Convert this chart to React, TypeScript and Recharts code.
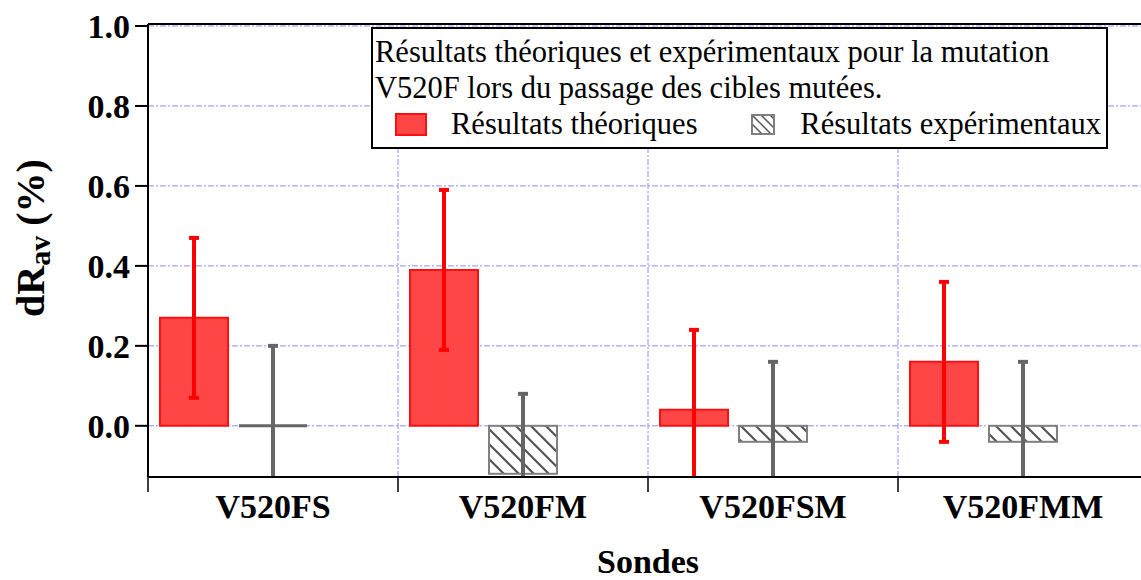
import React from 'react';
import { BarChart, Bar, XAxis, YAxis, CartesianGrid, ErrorBar, Legend, Label, ReferenceLine } from 'recharts';

const categories = ['V520FS', 'V520FM', 'V520FSM', 'V520FMM'];
const theoretical = [0.27, 0.39, 0.04, 0.16];
const theoreticalErr = [0.2, 0.2, 0.2, 0.2];
const experimental = [0, -0.12, -0.04, -0.04];
const experimentalErr = [0.2, 0.2, 0.2, 0.2];
const yTicks = [0, 0.2, 0.4, 0.6, 0.8, 1.0];
const Y_MIN = -0.128;
const Y_MAX = 1.005;

const data = categories.map((name, i) => ({
  name,
  theo: theoretical[i],
  theoErr: theoreticalErr[i],
  exp: experimental[i],
  expErr: experimentalErr[i],
}));

const legendOrder = ['theo', 'exp'];

const FONT = '"Liberation Serif", "Times New Roman", serif';
const RED_FILL = '#ff4646';
const RED_STROKE = '#ff1010';
const GREY = '#666666';
const GRID = '#8c8cff';

// chart layout
const CHART_W = 1160;
const CHART_H = 580;
const M_TOP = 24;
const M_RIGHT = 12;
const Y_W = 148;
const X_H = 103;
const TICK_MARGIN = 17;

const HatchBar = (props: any) => {
  const { x, y, width, height } = props;
  const top = Math.min(y, y + height);
  const h = Math.abs(height);
  if (h < 1) {
    return <line x1={x} x2={x + width} y1={y} y2={y} stroke={GREY} strokeWidth={3} />;
  }
  return (
    <rect x={x} y={top} width={width} height={h} fill="url(#hatch)" stroke="#808080" strokeWidth={2} />
  );
};

// category label + tick mark on the left boundary of each category
const CatTick = (props: any) => {
  const { x, y, payload, width, visibleTicksCount } = props;
  const half = payload && payload.offset ? payload.offset : width / (visibleTicksCount || 4) / 2;
  const axisY = y - TICK_MARGIN;
  return (
    <g>
      <line x1={x - half} x2={x - half} y1={axisY} y2={axisY + 15} stroke="#000" strokeWidth={1.5} />
      <text
        x={x}
        y={y + 24}
        textAnchor="middle"
        fontFamily={FONT}
        fontWeight="bold"
        fontSize={34}
        fill="#000"
      >
        {payload.value}
      </text>
    </g>
  );
};

const LegendBox = (props: any) => {
  const items = (props.payload || [])
    .filter((p: any) => legendOrder.includes(p.dataKey))
    .sort((a: any, b: any) => legendOrder.indexOf(a.dataKey) - legendOrder.indexOf(b.dataKey));
  return (
    <div
      style={{
        boxSizing: 'border-box',
        width: 737,
        height: 122,
        border: '2px solid #000',
        background: '#fff',
        fontFamily: FONT,
        fontSize: 30.5,
        lineHeight: '36px',
        color: '#000',
        padding: '5px 5px 0 2px',
        whiteSpace: 'nowrap',
      }}
    >
      <div>Résultats théoriques et expérimentaux pour la mutation</div>
      <div>V520F lors du passage des cibles mutées.</div>
      <div style={{ display: 'flex', justifyContent: 'space-between', paddingLeft: 20 }}>
        {items.map((p: any) => (
          <div key={p.value} style={{ display: 'flex', alignItems: 'center' }}>
            {p.dataKey === 'theo' ? (
              <svg width={32} height={23} style={{ marginRight: 24 }}>
                <rect x={1} y={1} width={30} height={21} fill={RED_FILL} stroke={RED_STROKE} strokeWidth={2} />
              </svg>
            ) : (
              <svg width={24} height={21} style={{ marginRight: 25 }}>
                <defs>
                  <pattern id="hatchLegend" patternUnits="userSpaceOnUse" width={9} height={9}>
                    <rect width={9} height={9} fill="#fff" />
                    <path d="M0,0 L9,9 M-4.5,4.5 L4.5,13.5 M4.5,-4.5 L13.5,4.5" stroke="#555" strokeWidth={1.5} />
                  </pattern>
                </defs>
                <rect x={1} y={1} width={22} height={19} fill="url(#hatchLegend)" stroke="#808080" strokeWidth={2} />
              </svg>
            )}
            <span>{p.value}</span>
          </div>
        ))}
      </div>
    </div>
  );
};

const YTitle = () => (
  <text
    x={44}
    y={238}
    transform="rotate(-90, 44, 238)"
    textAnchor="middle"
    fontFamily={FONT}
    fontWeight="bold"
    fontSize={40}
    fill="#000"
  >
    dR<tspan dy={6} fontSize={30}>av</tspan>
    <tspan dy={-6}> (%)</tspan>
  </text>
);

const XTitle = (props: any) => {
  const { viewBox } = props;
  return (
    <text
      x={viewBox.x + viewBox.width / 2}
      y={viewBox.y + 96}
      textAnchor="middle"
      fontFamily={FONT}
      fontWeight="bold"
      fontSize={34}
      fill="#000"
    >
      Sondes
    </text>
  );
};

export default function App() {
  return (
    <div style={{ position: 'fixed', left: 0, top: 0, width: 1141, height: 580, overflow: 'hidden', background: '#fff' }}>
      <style>{`.recharts-errorBars, .recharts-errorBar { clip-path: url(#plotClip); }`}</style>
      <BarChart
        width={CHART_W}
        height={CHART_H}
        data={data}
        margin={{ top: M_TOP, right: M_RIGHT, bottom: 0, left: 0 }}
        barCategoryGap={12}
        barGap={11}
      >
        <defs>
          <clipPath id="plotClip">
            <rect x={Y_W} y={M_TOP} width={CHART_W - Y_W - M_RIGHT} height={CHART_H - M_TOP - X_H} />
          </clipPath>
          <pattern id="hatch" patternUnits="userSpaceOnUse" width={15} height={15}>
            <rect width={15} height={15} fill="#fff" />
            <path d="M0,0 L15,15 M-7.5,7.5 L7.5,22.5 M7.5,-7.5 L22.5,7.5" stroke="#555" strokeWidth={2.2} />
          </pattern>
        </defs>
        <CartesianGrid vertical={false} xAxisId="cat" stroke={GRID} strokeDasharray="6 2 2 2" strokeWidth={1} />
        {categories.slice(1).map((c) => (
          <ReferenceLine
            key={c}
            xAxisId="cat"
            x={c}
            position="start"
            stroke={GRID}
            strokeDasharray="6 2 2 2"
            strokeWidth={1}
          />
        ))}
        <XAxis
          xAxisId="cat"
          dataKey="name"
          height={X_H}
          axisLine={{ stroke: '#000', strokeWidth: 2 }}
          tickLine={false}
          tickSize={0}
          tickMargin={TICK_MARGIN}
          tick={<CatTick />}
        >
          <Label content={<XTitle />} />
        </XAxis>
        <YAxis
          width={Y_W}
          domain={[Y_MIN, Y_MAX]}
          ticks={yTicks}
          allowDataOverflow
          tickSize={13}
          tickMargin={5}
          tickFormatter={(v: number) => v.toFixed(1)}
          tick={{ fontFamily: FONT, fontWeight: 'bold', fontSize: 34, fill: '#000' }}
          tickLine={{ stroke: '#000', strokeWidth: 2 }}
          axisLine={{ stroke: '#000', strokeWidth: 2 }}
        >
          <Label content={<YTitle />} />
        </YAxis>
        <ReferenceLine xAxisId="cat" y={Y_MAX} stroke="#000" strokeWidth={2} />
        <Bar
          xAxisId="cat"
          dataKey="theo"
          name="Résultats théoriques"
          fill={RED_FILL}
          stroke={RED_STROKE}
          strokeWidth={2}
          isAnimationActive={false}
        >
          <ErrorBar dataKey="theoErr" width={5} stroke="#ff0000" strokeWidth={4} direction="y" clipPath="url(#plotClip)" />
        </Bar>
        <Bar
          xAxisId="cat"
          dataKey="exp"
          name="Résultats expérimentaux"
          fill="url(#hatch)"
          shape={<HatchBar />}
          isAnimationActive={false}
        >
          <ErrorBar dataKey="expErr" width={5} stroke={GREY} strokeWidth={4} direction="y" clipPath="url(#plotClip)" />
        </Bar>
        <Bar xAxisId="cat" dataKey="spare" legendType="none" isAnimationActive={false} />
        <Legend
          layout="horizontal"
          verticalAlign="middle"
          align="center"
          content={<LegendBox />}
          wrapperStyle={{ left: 371, top: 27, width: 737, height: 122 }}
        />
      </BarChart>
    </div>
  );
}
